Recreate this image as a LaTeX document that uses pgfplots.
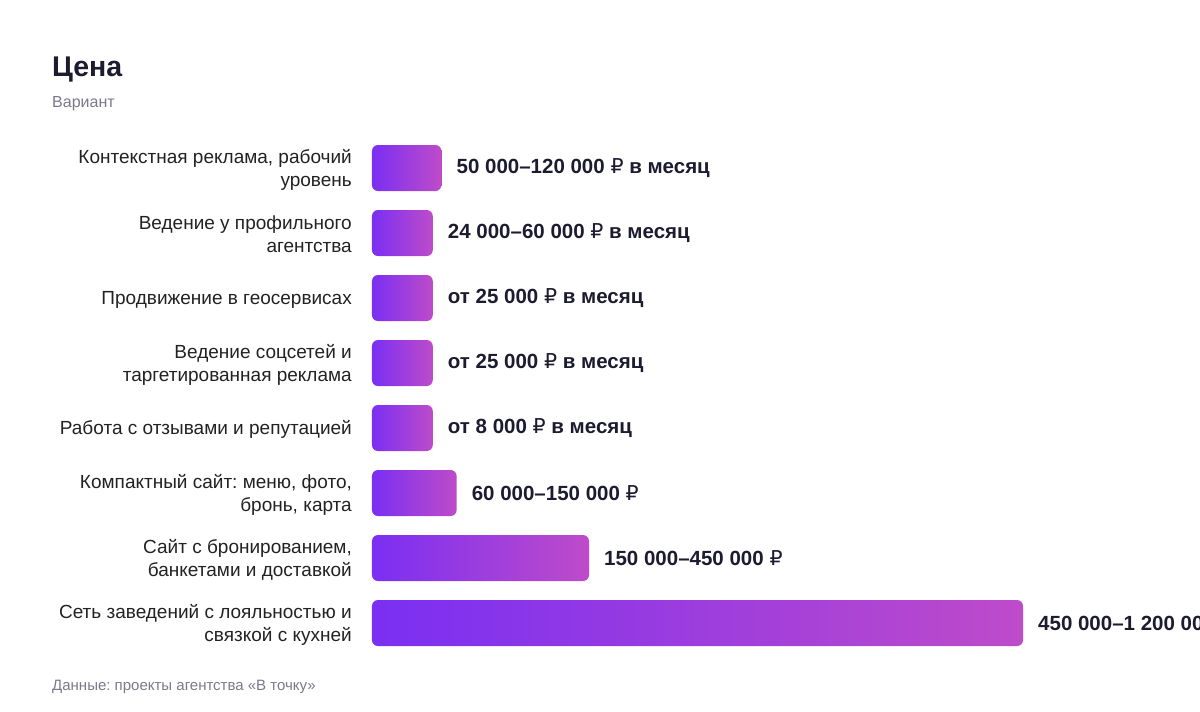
\documentclass[border=0pt]{standalone}
\usepackage{pgfplots}
\pgfplotsset{compat=1.18}
\usepackage{pgfplotstable}
\usepackage{fontspec}
\setmainfont{Liberation Sans}
\newfontfamily\rubfont{DejaVu Sans}
\newcommand\rub{{\rubfont\fontseries{m}\selectfont ₽}}
\frenchspacing

\definecolor{ink}{HTML}{1C1B30}
\definecolor{labelc}{HTML}{222222}
\definecolor{muted}{HTML}{7A798C}
\definecolor{barL}{HTML}{7A2FF2}
\definecolor{barR}{HTML}{BE4BCA}

% low = lower bound of the price range, bars have a minimal visible length
\pgfplotstableread[col sep=semicolon]{
pos;low;label
0;48000;50 000–120 000 \rub{} в месяц
1;24000;24 000–60 000 \rub{} в месяц
2;25000;от 25 000 \rub{} в месяц
3;25000;от 25 000 \rub{} в месяц
4;8000;от 8 000 \rub{} в месяц
5;58500;60 000–150 000 \rub
6;150000;150 000–450 000 \rub
7;450000;450 000–1 200 000 \rub
}\prices

\begin{document}
\begin{tikzpicture}
\useasboundingbox (0,0) rectangle (1200pt,-712pt);
\clip (0,0) rectangle (1200pt,-712pt);

\node[anchor=base west, inner sep=0pt, text=ink, font=\fontsize{28.5}{32}\selectfont\bfseries] at (52pt,-76pt) {Цена};
\node[anchor=base west, inner sep=0pt, text=muted, font=\fontsize{16}{18}\selectfont] at (52pt,-107pt) {Вариант};
\node[anchor=base west, inner sep=0pt, text=muted, font=\fontsize{15}{17}\selectfont] at (52pt,-690pt) {Данные: проекты агентства «В точку»};

\begin{axis}[
  at={(372pt,-655.5pt)}, anchor=south west,
  scale only axis, width=828pt, height=520pt,
  xmin=0, xmax=572350,
  ymin=-0.5, ymax=7.5, y dir=reverse,
  axis line style={draw=none},
  xtick=\empty,
  ytick={0,...,7},
  major tick length=0pt,
  yticklabels={
    {Контекстная реклама, рабочий\\уровень},
    {Ведение у профильного\\агентства},
    {Продвижение в геосервисах},
    {Ведение соцсетей и\\таргетированная реклама},
    {Работа с отзывами и репутацией},
    {Компактный сайт: меню, фото,\\бронь, карта},
    {Сайт с бронированием,\\банкетами и доставкой},
    {Сеть заведений с лояльностью и\\связкой с кухней}},
  yticklabel style={anchor=east, inner sep=0pt, xshift=-20pt, yshift=-1.5pt,
    align=right, text=labelc, font=\fontsize{19}{23}\selectfont},
  clip=false,
]
\pgfplotsinvokeforeach{0,...,7}{
\addplot[xbar, bar width=46pt, draw=none, left color=barL, right color=barR,
  rounded corners=6pt,
  point meta=explicit symbolic,
  nodes near coords,
  nodes near coords style={anchor=west, inner sep=0pt, xshift=15pt,
    text=ink, font=\fontsize{20.5}{24}\selectfont\bfseries},
  x filter/.expression={\coordindex==#1 ? x : nan}]
  table[x expr={max(\thisrow{low},42000)}, y=pos, meta=label] {\prices};
}
\end{axis}
\end{tikzpicture}
\end{document}
